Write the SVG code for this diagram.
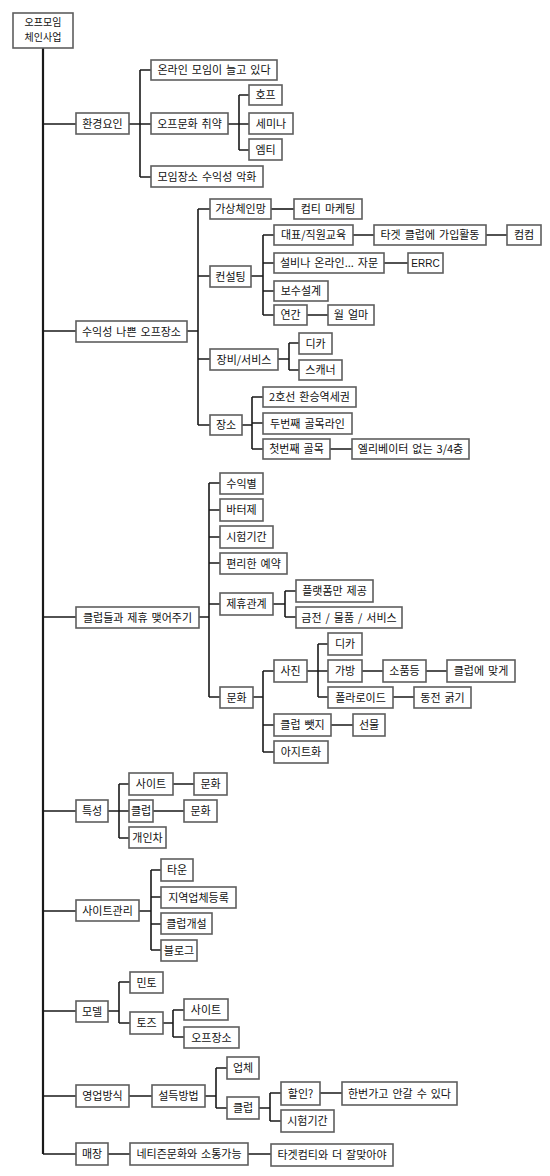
<svg xmlns="http://www.w3.org/2000/svg" width="550" height="1176" viewBox="0 0 550 1176">
<style>
rect.b{fill:#fff;stroke:#5e5e5e;stroke-width:1.6}
text{font-family:"Noto Sans CJK KR","Noto Sans",sans-serif;font-size:11px;fill:#111;text-anchor:middle;word-spacing:1.5px}
#connectors path{fill:none;stroke:#1a1a1a;stroke-width:1.6}
#connectors path.trunk{stroke-width:2.2}
</style>
<rect width="550" height="1176" fill="#fff"/>
<g id="connectors">
<path class="trunk" d="M43,48V1154"/>
<path d="M43,124H76M43,331H76M43,617H76M43,811H76M43,911H76M43,1011H76M43,1096H76M43,1154H76"/>
<path d="M129,124H140M140,70V177M140,70H151M140,124H151M140,177H151"/>
<path d="M228,124H239M239,95V150M239,95H249M239,124H249M239,150H249"/>
<path d="M187,331H198M198,209V425M198,209H210M198,276H210M198,359H210M198,425H210"/>
<path d="M271,209H294"/>
<path d="M251,276H263M263,235V315M263,235H274M263,263H274M263,291H274M263,315H274"/>
<path d="M353,235H374M486,235H507M384,263H408M307,315H328"/>
<path d="M278,359H289M289,343V370M289,343H299M289,370H299"/>
<path d="M242,425H252M252,397V449M252,397H263M252,423H263M252,449H263M330,449H352"/>
<path d="M199,617H209M209,483V697M209,483H220M209,510H220M209,537H220M209,563H220M209,604H220M209,697H220"/>
<path d="M273,604H285M285,591V617M285,591H296M285,617H296"/>
<path d="M253,697H263M263,671V752M263,671H274M263,725H274M263,752H274"/>
<path d="M307,671H318M318,644V697M318,644H328M318,671H328M318,697H328"/>
<path d="M362,671H383M426,671H447M393,697H414M331,725H353"/>
<path d="M108,811H119M119,784V838M119,784H129M119,811H129M119,838H129M173,784H194M153,811H184"/>
<path d="M139,911H151M151,870V950M151,870H161M151,897H161M151,924H161M151,950H161"/>
<path d="M108,1011H119M119,982V1023M119,982H130M119,1023H130"/>
<path d="M163,1023H173M173,1010V1037M173,1010H184M173,1037H184"/>
<path d="M129,1096H152M205,1096H216M216,1068V1108M216,1068H227M216,1108H227"/>
<path d="M259,1108H270M270,1093V1121M270,1093H281M270,1121H281M320,1093H342"/>
<path d="M108,1154H130M248,1154H271"/>
</g>
<g id="root"><rect class="b" x="13" y="13" width="60" height="35"/><text x="43" y="26" style="font-size:10px">오프모임</text><text x="43" y="41" style="font-size:10px">체인사업</text></g>
<g id="n1"><rect class="b" x="76" y="113" width="53" height="21"/><text x="102.5" y="127.5">환경요인</text></g>
<g id="n1a"><rect class="b" x="151" y="60" width="126" height="20"/><text x="214" y="74">온라인 모임이 늘고 있다</text></g>
<g id="n1b"><rect class="b" x="151" y="113" width="77" height="21"/><text x="189.5" y="127.5">오프문화 취약</text></g>
<g id="n1b1"><rect class="b" x="249" y="85" width="33" height="20"/><text x="265.5" y="99">호프</text></g>
<g id="n1b2"><rect class="b" x="249" y="113" width="44" height="21"/><text x="271" y="127.5">세미나</text></g>
<g id="n1b3"><rect class="b" x="249" y="139" width="33" height="21"/><text x="265.5" y="153.5">엠티</text></g>
<g id="n1c"><rect class="b" x="151" y="166" width="112" height="21"/><text x="207" y="180.5">모임장소 수익성 악화</text></g>
<g id="n2"><rect class="b" x="76" y="321" width="111" height="21"/><text x="131.5" y="335.5">수익성 나쁜 오프장소</text></g>
<g id="n2a"><rect class="b" x="210" y="199" width="61" height="20"/><text x="240.5" y="213">가상체인망</text></g>
<g id="n2a1"><rect class="b" x="294" y="199" width="68" height="20"/><text x="328" y="213">컴티 마케팅</text></g>
<g id="n2b"><rect class="b" x="210" y="266" width="41" height="21"/><text x="230.5" y="280.5">컨설팅</text></g>
<g id="n2b1"><rect class="b" x="274" y="225" width="79" height="20"/><text x="313.5" y="239">대표/직원교육</text></g>
<g id="n2b1a"><rect class="b" x="374" y="225" width="112" height="20"/><text x="430" y="239">타겟 클럽에 가입활동</text></g>
<g id="n2b1b"><rect class="b" x="507" y="225" width="34" height="20"/><text x="524" y="239">컴컴</text></g>
<g id="n2b2"><rect class="b" x="274" y="253" width="110" height="20"/><text x="329" y="267">설비나 온라인... 자문</text></g>
<g id="n2b2a"><rect class="b" x="408" y="253" width="35" height="20"/><text x="425.5" y="267" style="font-family:'Liberation Sans',sans-serif;font-size:10px">ERRC</text></g>
<g id="n2b3"><rect class="b" x="274" y="281" width="54" height="20"/><text x="301" y="295">보수설계</text></g>
<g id="n2b4"><rect class="b" x="274" y="305" width="33" height="20"/><text x="290.5" y="319">연간</text></g>
<g id="n2b4a"><rect class="b" x="328" y="305" width="46" height="20"/><text x="351" y="319">월 얼마</text></g>
<g id="n2c"><rect class="b" x="210" y="349" width="68" height="21"/><text x="244" y="363.5">장비/서비스</text></g>
<g id="n2c1"><rect class="b" x="299" y="333" width="33" height="21"/><text x="315.5" y="347.5">디카</text></g>
<g id="n2c2"><rect class="b" x="299" y="360" width="43" height="20"/><text x="320.5" y="374">스캐너</text></g>
<g id="n2d"><rect class="b" x="210" y="415" width="32" height="20"/><text x="226" y="429">장소</text></g>
<g id="n2d1"><rect class="b" x="263" y="387" width="93" height="20"/><text x="309.5" y="401">2호선 환승역세권</text></g>
<g id="n2d2"><rect class="b" x="263" y="413" width="89" height="21"/><text x="307.5" y="427.5">두번째 골목라인</text></g>
<g id="n2d3"><rect class="b" x="263" y="439" width="67" height="20"/><text x="296.5" y="453">첫번째 골목</text></g>
<g id="n2d3a"><rect class="b" x="352" y="439" width="117" height="20"/><text x="410.5" y="453">엘리베이터 없는 3/4층</text></g>
<g id="n3"><rect class="b" x="76" y="607" width="123" height="21"/><text x="137.5" y="621.5">클럽들과 제휴 맺어주기</text></g>
<g id="n3a"><rect class="b" x="220" y="473" width="43" height="21"/><text x="241.5" y="487.5">수익별</text></g>
<g id="n3b"><rect class="b" x="220" y="499" width="43" height="22"/><text x="241.5" y="514">바터제</text></g>
<g id="n3c"><rect class="b" x="220" y="526" width="53" height="22"/><text x="246.5" y="541">시험기간</text></g>
<g id="n3d"><rect class="b" x="220" y="553" width="67" height="21"/><text x="253.5" y="567.5">편리한 예약</text></g>
<g id="n3e"><rect class="b" x="220" y="593" width="53" height="22"/><text x="246.5" y="608">제휴관계</text></g>
<g id="n3e1"><rect class="b" x="296" y="580" width="77" height="22"/><text x="334.5" y="595">플랫폼만 제공</text></g>
<g id="n3e2"><rect class="b" x="296" y="607" width="106" height="21"/><text x="349" y="621.5">금전 / 물품 / 서비스</text></g>
<g id="n3f"><rect class="b" x="220" y="687" width="33" height="21"/><text x="236.5" y="701.5">문화</text></g>
<g id="n3f1"><rect class="b" x="274" y="660" width="33" height="22"/><text x="290.5" y="675">사진</text></g>
<g id="n3f1a"><rect class="b" x="328" y="633" width="34" height="22"/><text x="345" y="648">디카</text></g>
<g id="n3f1b"><rect class="b" x="328" y="660" width="34" height="22"/><text x="345" y="675">가방</text></g>
<g id="n3f1b1"><rect class="b" x="383" y="660" width="43" height="22"/><text x="404.5" y="675">소품등</text></g>
<g id="n3f1b2"><rect class="b" x="447" y="660" width="68" height="22"/><text x="481" y="675">클럽에 맞게</text></g>
<g id="n3f1c"><rect class="b" x="328" y="687" width="65" height="21"/><text x="360.5" y="701.5">폴라로이드</text></g>
<g id="n3f1c1"><rect class="b" x="414" y="687" width="57" height="21"/><text x="442.5" y="701.5">동전 굵기</text></g>
<g id="n3f2"><rect class="b" x="274" y="714" width="57" height="22"/><text x="302.5" y="729">클럽 뺏지</text></g>
<g id="n3f2a"><rect class="b" x="353" y="714" width="32" height="22"/><text x="369" y="729">선물</text></g>
<g id="n3f3"><rect class="b" x="274" y="741" width="54" height="22"/><text x="301" y="756">아지트화</text></g>
<g id="n4"><rect class="b" x="76" y="800" width="32" height="22"/><text x="92" y="815">특성</text></g>
<g id="n4a"><rect class="b" x="129" y="773" width="44" height="22"/><text x="151" y="788">사이트</text></g>
<g id="n4a1"><rect class="b" x="194" y="773" width="33" height="22"/><text x="210.5" y="788">문화</text></g>
<g id="n4b"><rect class="b" x="129" y="800" width="24" height="22"/><text x="141" y="815">클럽</text></g>
<g id="n4b1"><rect class="b" x="184" y="800" width="33" height="22"/><text x="200.5" y="815">문화</text></g>
<g id="n4c"><rect class="b" x="129" y="827" width="37" height="21"/><text x="147.5" y="841.5">개인차</text></g>
<g id="n5"><rect class="b" x="76" y="900" width="63" height="21"/><text x="107.5" y="914.5">사이트관리</text></g>
<g id="n5a"><rect class="b" x="161" y="859" width="32" height="22"/><text x="177" y="874">타운</text></g>
<g id="n5b"><rect class="b" x="161" y="887" width="75" height="21"/><text x="198.5" y="901.5">지역업체등록</text></g>
<g id="n5c"><rect class="b" x="161" y="913" width="51" height="21"/><text x="186.5" y="927.5">클럽개설</text></g>
<g id="n5d"><rect class="b" x="161" y="940" width="36" height="21"/><text x="179" y="954.5">블로그</text></g>
<g id="n6"><rect class="b" x="76" y="1001" width="32" height="21"/><text x="92" y="1015.5">모델</text></g>
<g id="n6a"><rect class="b" x="130" y="972" width="33" height="21"/><text x="146.5" y="986.5">민토</text></g>
<g id="n6b"><rect class="b" x="130" y="1012" width="33" height="22"/><text x="146.5" y="1027">토즈</text></g>
<g id="n6b1"><rect class="b" x="184" y="999" width="44" height="21"/><text x="206" y="1013.5">사이트</text></g>
<g id="n6b2"><rect class="b" x="184" y="1027" width="55" height="21"/><text x="211.5" y="1041.5">오프장소</text></g>
<g id="n7"><rect class="b" x="76" y="1085" width="53" height="22"/><text x="102.5" y="1100">영업방식</text></g>
<g id="n7a"><rect class="b" x="152" y="1085" width="53" height="22"/><text x="178.5" y="1100">설득방법</text></g>
<g id="n7a1"><rect class="b" x="227" y="1057" width="32" height="22"/><text x="243" y="1072">업체</text></g>
<g id="n7a2"><rect class="b" x="227" y="1097" width="32" height="22"/><text x="243" y="1112">클럽</text></g>
<g id="n7a2a"><rect class="b" x="281" y="1082" width="39" height="23"/><text x="300.5" y="1097.5">할인?</text></g>
<g id="n7a2a1"><rect class="b" x="342" y="1082" width="115" height="23"/><text x="399.5" y="1097.5">한번가고 안갈 수 있다</text></g>
<g id="n7a2b"><rect class="b" x="281" y="1110" width="53" height="22"/><text x="307.5" y="1125">시험기간</text></g>
<g id="n8"><rect class="b" x="76" y="1143" width="32" height="22"/><text x="92" y="1158">매장</text></g>
<g id="n8a"><rect class="b" x="130" y="1143" width="118" height="22"/><text x="189" y="1158">네티즌문화와 소통가능</text></g>
<g id="n8b"><rect class="b" x="271" y="1144" width="122" height="22"/><text x="332" y="1159">타겟컴티와 더 잘맞아야</text></g>
</svg>
